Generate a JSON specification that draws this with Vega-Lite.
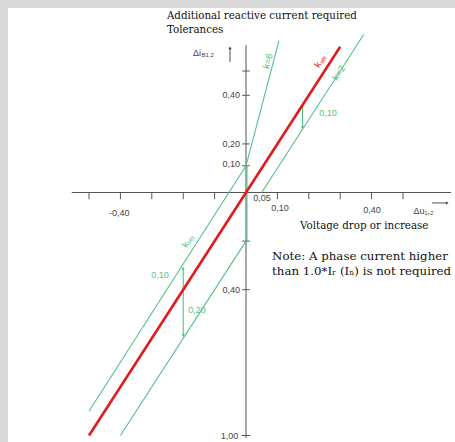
{
  "$schema": "https://vega.github.io/schema/vega-lite/v6.json",
  "width": 447,
  "height": 434,
  "autosize": {"type": "none"},
  "padding": {"left": 8, "top": 8, "right": 0, "bottom": 0},
  "background": "#d9d9d9",
  "config": {"view": {"fill": "white", "stroke": null}},
  "encoding": {
    "x": {"field": "u", "type": "quantitative", "scale": {"domain": [-0.758, 0.6656], "nice": false, "zero": false}, "axis": null},
    "y": {"field": "i", "type": "quantitative", "scale": {"domain": [-1.0267, 0.7593], "nice": false, "zero": false}, "axis": null}
  },
  "layer": [
    {
      "data": {"values": [
        {"u": -0.555, "i": 0, "u2": 0.653, "i2": 0},
        {"u": 0, "i": 0.607, "u2": 0, "i2": -1.01},
        {"u": -0.5, "i": 0, "u2": -0.5, "i2": -0.028},
        {"u": -0.4, "i": 0, "u2": -0.4, "i2": -0.028},
        {"u": -0.3, "i": 0, "u2": -0.3, "i2": -0.028},
        {"u": -0.2, "i": 0, "u2": -0.2, "i2": -0.028},
        {"u": -0.1, "i": 0, "u2": -0.1, "i2": -0.028},
        {"u": 0.1, "i": 0, "u2": 0.1, "i2": -0.028},
        {"u": 0.2, "i": 0, "u2": 0.2, "i2": -0.028},
        {"u": 0.3, "i": 0, "u2": 0.3, "i2": -0.028},
        {"u": 0.4, "i": 0, "u2": 0.4, "i2": -0.028},
        {"u": 0.5, "i": 0, "u2": 0.5, "i2": -0.028},
        {"u": -0.012, "i": 0.5, "u2": 0.012, "i2": 0.5},
        {"u": -0.012, "i": 0.4, "u2": 0.012, "i2": 0.4},
        {"u": -0.012, "i": 0.2, "u2": 0.012, "i2": 0.2},
        {"u": -0.012, "i": 0.11, "u2": 0.012, "i2": 0.11},
        {"u": -0.012, "i": -0.2, "u2": 0.012, "i2": -0.2},
        {"u": -0.012, "i": -0.4, "u2": 0.012, "i2": -0.4},
        {"u": -0.014, "i": -1.0, "u2": 0.014, "i2": -1.0},
        {"u": -0.051, "i": 0.537, "u2": -0.051, "i2": 0.592},
        {"u": 0.592, "i": -0.043, "u2": 0.638, "i2": -0.043}
      ]},
      "mark": {"type": "rule", "color": "#555555", "strokeWidth": 1},
      "encoding": {"x2": {"field": "u2"}, "y2": {"field": "i2"}}
    },
    {
      "data": {"values": [
        {"u": -0.051, "i": 0.595, "s": "triangle-up"},
        {"u": 0.641, "i": -0.043, "s": "triangle-right"}
      ]},
      "mark": {"type": "point", "filled": true, "color": "#333333", "size": 10, "opacity": 1},
      "encoding": {"shape": {"field": "s", "type": "nominal", "scale": null, "legend": null}}
    },
    {
      "data": {"values": [
        {"u": 0, "i": 0.11, "u2": 0.105, "i2": 0.625},
        {"u": -0.5, "i": -0.9, "u2": 0, "i2": 0.11},
        {"u": 0.05, "i": 0, "u2": 0.375, "i2": 0.65},
        {"u": 0, "i": -0.2, "u2": -0.4, "i2": -1.0},
        {"u": 0.003, "i": 0.11, "u2": 0.003, "i2": -0.2},
        {"u": 0.18, "i": 0.36, "u2": 0.18, "i2": 0.27},
        {"u": -0.2, "i": -0.31, "u2": -0.2, "i2": -0.59}
      ]},
      "mark": {"type": "rule", "color": "#55bf86", "strokeWidth": 1.1},
      "encoding": {"x2": {"field": "u2"}, "y2": {"field": "i2"}}
    },
    {
      "data": {"values": [
        {"u": 0.18, "i": 0.268, "s": "triangle-down"},
        {"u": -0.2, "i": -0.312, "s": "triangle-up"},
        {"u": -0.2, "i": -0.588, "s": "triangle-down"}
      ]},
      "mark": {"type": "point", "filled": true, "color": "#55bf86", "size": 10, "opacity": 1},
      "encoding": {"shape": {"field": "s", "type": "nominal", "scale": null, "legend": null}}
    },
    {
      "data": {"values": [{"u": -0.5, "i": -1.0, "u2": 0.3, "i2": 0.6}]},
      "mark": {"type": "rule", "color": "#e3191c", "strokeWidth": 2.6},
      "encoding": {"x2": {"field": "u2"}, "y2": {"field": "i2"}}
    },
    {
      "data": {"values": [
        {"u": -0.252, "i": 0.726, "t": "Additional reactive current required"},
        {"u": -0.252, "i": 0.669, "t": "Tolerances"},
        {"u": 0.172, "i": -0.138, "t": "Voltage drop or increase"}
      ]},
      "mark": {"type": "text", "font": "DejaVu Serif", "fontSize": 10.3, "align": "left", "baseline": "middle", "color": "#111111"},
      "encoding": {"text": {"field": "t"}}
    },
    {
      "data": {"values": [
        {"u": 0.083, "i": -0.261, "t": "Note: A phase current higher"},
        {"u": 0.083, "i": -0.323, "t": "than 1.0*Iᵣ (Iₙ) is not required"}
      ]},
      "mark": {"type": "text", "font": "DejaVu Serif", "fontSize": 11.8, "align": "left", "baseline": "middle", "color": "#111111"},
      "encoding": {"text": {"field": "t"}}
    },
    {
      "data": {"values": [
        {"u": -0.404, "i": -0.084, "t": "-0,40"},
        {"u": 0.051, "i": -0.023, "t": "0,05"},
        {"u": 0.108, "i": -0.064, "t": "0,10"},
        {"u": 0.401, "i": -0.072, "t": "0,40"},
        {"u": 0.565, "i": -0.078, "t": "Δu₁,₂"}
      ]},
      "mark": {"type": "text", "font": "Liberation Sans", "fontSize": 9, "align": "center", "baseline": "middle", "color": "#444444"},
      "encoding": {"text": {"field": "t"}}
    },
    {
      "data": {"values": [
        {"u": -0.019, "i": 0.4, "t": "0,40"},
        {"u": -0.019, "i": 0.2, "t": "0,20"},
        {"u": -0.019, "i": 0.117, "t": "0,10"},
        {"u": -0.019, "i": -0.4, "t": "0,40"},
        {"u": -0.025, "i": -1.0, "t": "1,00"},
        {"u": -0.143, "i": 0.574, "t": "Δi"}
      ]},
      "mark": {"type": "text", "font": "Liberation Sans", "fontSize": 9, "align": "right", "baseline": "middle", "color": "#444444"},
      "encoding": {"text": {"field": "t"}}
    },
    {
      "data": {"values": [{"u": -0.142, "i": 0.566, "t": "B1,2"}]},
      "mark": {"type": "text", "font": "Liberation Sans", "fontSize": 6, "align": "left", "baseline": "middle", "color": "#444444"},
      "encoding": {"text": {"field": "t"}}
    },
    {
      "data": {"values": [
        {"u": 0.261, "i": 0.327, "t": "0,10"},
        {"u": -0.274, "i": -0.34, "t": "0,10"},
        {"u": -0.156, "i": -0.484, "t": "0,20"}
      ]},
      "mark": {"type": "text", "font": "Liberation Sans", "fontSize": 9, "align": "center", "baseline": "middle", "color": "#55bf86"},
      "encoding": {"text": {"field": "t"}}
    },
    {
      "data": {"values": [{"u": 0.070, "i": 0.541, "t": "k=6"}]},
      "mark": {"type": "text", "font": "Liberation Sans", "fontSize": 9.5, "angle": 285, "align": "center", "baseline": "middle", "color": "#55bf86"},
      "encoding": {"text": {"field": "t"}}
    },
    {
      "data": {"values": [
        {"u": 0.296, "i": 0.492, "t": "k=2"},
        {"u": -0.185, "i": -0.2, "t": "kₛₑₜ"}
      ]},
      "mark": {"type": "text", "font": "Liberation Sans", "fontSize": 9.5, "angle": 303, "align": "center", "baseline": "middle", "color": "#55bf86"},
      "encoding": {"text": {"field": "t"}}
    },
    {
      "data": {"values": [{"u": 0.236, "i": 0.541, "t": "kₛₑₜ"}]},
      "mark": {"type": "text", "font": "Liberation Sans", "fontSize": 9.5, "angle": 303, "align": "center", "baseline": "middle", "color": "#e3191c"},
      "encoding": {"text": {"field": "t"}}
    }
  ]
}
